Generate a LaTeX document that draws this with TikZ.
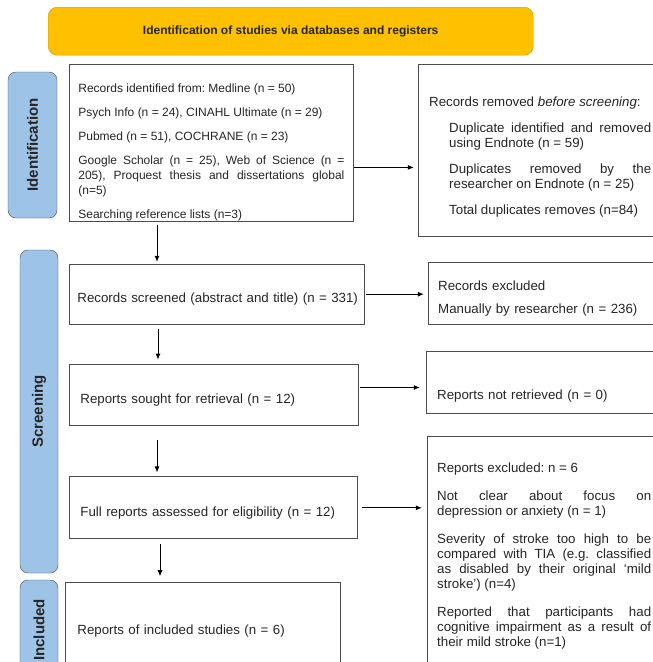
\documentclass[tikz,border=0pt]{standalone}
\usepackage{fontspec}
\setmainfont{Liberation Sans}
\usetikzlibrary{positioning,arrows.meta}

\definecolor{bannerfill}{HTML}{FFC000}
\definecolor{bannerdraw}{HTML}{C99A00}
\definecolor{phasefill}{HTML}{9DC3E6}
\newcommand{\bodyfont}{\fontsize{13.3}{15}\selectfont\frenchspacing}
\newcommand{\listfont}{\fontsize{12}{15}\selectfont\frenchspacing}

\tikzstyle{banner} = [rectangle, draw=bannerdraw, fill=bannerfill, rounded corners=9pt,
  font=\fontsize{12}{14}\selectfont\bfseries, text=black!85]
\tikzstyle{phase} = [rectangle, draw=black!70, fill=phasefill, rounded corners=8pt,
  rotate=90, font=\fontsize{15}{17}\selectfont\bfseries, text=black!85]
\tikzstyle{stage} = [rectangle, draw=black!70, fill=white, align=left,
  font=\bodyfont, text=black!85, inner ysep=4pt, line width=0.8pt]
\tikzstyle{line} = [draw, -{Latex[length=6pt,width=5pt]}, line width=0.8pt]

\begin{document}
\begin{tikzpicture}[x=1pt, y=-1pt]
\useasboundingbox[fill=white] (0,0) rectangle (653,662);
\clip (0,0) rectangle (653,662);

% ==========================================
% HEADER
% ==========================================
\node[banner, anchor=north west, minimum width=485pt, minimum height=48pt] (title) at (48,7)
  {Identification of studies via databases and registers};

% ==========================================
% PHASE LABELS (left edge)
% ==========================================
\node[phase, minimum width=146pt, minimum height=49pt] (ident_lab) at (32.5,145) {Identification};
\node[phase, minimum width=323pt, minimum height=38pt] (screen_lab) at (39,411.5) {Screening};
\node[phase, minimum width=100pt, minimum height=38pt] (incl_lab) at (39,630) {Included};

% ==========================================
% MAIN COLUMN
% ==========================================
\node[stage, anchor=north west, font=\listfont, align=justify, text width=266pt,
  inner xsep=9pt, inner ysep=0pt, text height=28pt, minimum height=157pt] (idrec) at (69,64)
  {Records identified from: Medline (n = 50)\\[9pt]
   Psych Info (n = 24), CINAHL Ultimate (n = 29)\\[9pt]
   Pubmed (n = 51), COCHRANE (n = 23)\\[9pt]
   Google Scholar (n = 25), Web of Science (n =\linebreak
   205), Proquest thesis and dissertations global\linebreak
   (n=5)\\[9pt]
   Searching reference lists (n=3)};
\node[stage, text width=283pt, inner xsep=6pt, text height=19pt, minimum height=60pt]
  (screened) [below=42pt of idrec.south west, anchor=north west]
  {\hspace*{2pt}Records screened (abstract and title) (n = 331)};
\node[stage, text width=267pt, inner xsep=11pt, text height=20pt, minimum height=61pt]
  (sought) [below=39pt of screened.south west, anchor=north west]
  {Reports sought for retrieval (n = 12)};
\node[stage, text width=266pt, inner xsep=11pt, text height=21pt, minimum height=62pt]
  (full) [below=51pt of sought.south west, anchor=north west]
  {Full reports assessed for eligibility (n = 12)};
\node[stage, text width=251pt, inner xsep=12pt, minimum height=96pt]
  (incl) [below=43pt of full.south west, anchor=north west, xshift=-4pt]
  {Reports of included studies (n = 6)};

% ==========================================
% EXCLUSIONS (right column)
% ==========================================
\node[stage, align=justify, text width=230pt, inner xsep=11pt, text height=22pt, minimum height=172pt]
  (removed) [right=64pt of idrec.north east, anchor=north west]
  {Records removed \textit{before screening}:\\[11pt]
   \hspace*{20pt}\parbox[t]{202pt}{\rightskip=0pt\parfillskip=0pt plus 1fil
   Duplicate identified and removed\linebreak
   using Endnote (n = 59)\\[11pt]
   Duplicates removed by the\linebreak
   researcher on Endnote (n = 25)\\[11pt]
   Total duplicates removes (n=84)}};
\node[stage, text width=220pt, inner xsep=10pt, text height=20pt, minimum height=62pt]
  (recexcl) [right=63pt of screened.north east, anchor=north west, yshift=2pt]
  {Records excluded\\[8pt]
   Manually by researcher (n = 236)};
\node[stage, text width=218pt, inner xsep=11pt, text height=37pt, minimum height=62pt]
  (notret) [right=67pt of sought.north east, anchor=north west, yshift=13pt]
  {Reports not retrieved (n = 0)};
\node[stage, align=justify, text width=214pt, inner xsep=10pt, minimum height=238pt]
  (repexcl) [right=69pt of full.north east, anchor=north west, yshift=40pt]
  {Reports excluded: n = 6\\[13pt]
   Not clear about focus on\linebreak
   depression or anxiety (n = 1)\\[13pt]
   Severity of stroke too high to be\linebreak
   compared with TIA (e.g. classified\linebreak
   as disabled by their original ‘mild\linebreak
   stroke’) (n=4)\\[13pt]
   Reported that participants had\linebreak
   cognitive impairment as a result of\linebreak
   their mild stroke (n=1)};

% ==========================================
% CONNECTORS
% ==========================================
\draw[line, shorten <=3pt, shorten >=2pt] ([xshift=88pt]idrec.south west) -- ([xshift=88pt]idrec.south west |- screened.north);
\draw[line, shorten <=4pt, shorten >=4pt] ([xshift=89pt]screened.south west) -- ([xshift=89pt]screened.south west |- sought.north);
\draw[line, shorten <=15pt, shorten >=4pt] ([xshift=88pt]sought.south west) -- ([xshift=88pt]sought.south west |- full.north);
\draw[line, shorten <=5pt, shorten >=6pt] ([xshift=91pt]full.south west) -- ([xshift=91pt]full.south west |- incl.north);

\draw[line, shorten >=4pt] ([yshift=-24.5pt]idrec.east) -- ([yshift=-24.5pt]idrec.east -| removed.west);
\draw[line, shorten <=1pt, shorten >=4pt] (screened.east) -- (screened.east -| recexcl.west);
\draw[line, shorten <=1pt, shorten >=6pt] ([yshift=7pt]sought.east) -- ([yshift=7pt]sought.east -| notret.west);
\draw[line, shorten <=4pt, shorten >=5pt] (full.east) -- (full.east -| repexcl.west);

\end{tikzpicture}
\end{document}
